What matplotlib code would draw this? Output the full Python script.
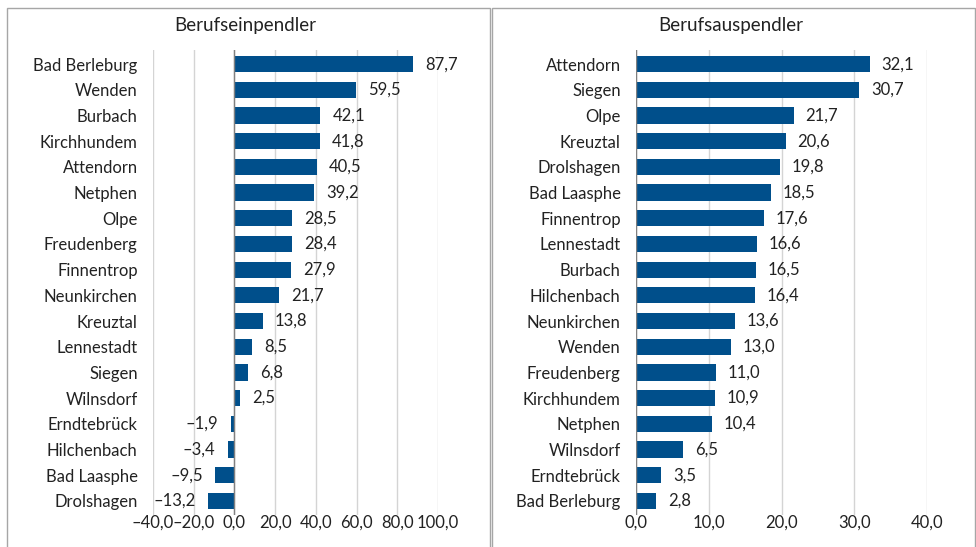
import matplotlib
matplotlib.use("Agg")
import matplotlib.pyplot as plt
from matplotlib.patches import Rectangle

plt.rcParams['font.family'] = ['Lato', 'DejaVu Sans']

ein_names = ["Bad Berleburg", "Wenden", "Burbach", "Kirchhundem", "Attendorn", "Netphen",
             "Olpe", "Freudenberg", "Finnentrop", "Neunkirchen", "Kreuztal", "Lennestadt",
             "Siegen", "Wilnsdorf", "Erndtebrück", "Hilchenbach", "Bad Laasphe", "Drolshagen"]
ein_vals = [87.7, 59.5, 42.1, 41.8, 40.5, 39.2, 28.5, 28.4, 27.9, 21.7, 13.8, 8.5, 6.8, 2.5,
            -1.9, -3.4, -9.5, -13.2]
ein_ticks = [-40, -20, 0, 20, 40, 60, 80, 100]

aus_names = ["Attendorn", "Siegen", "Olpe", "Kreuztal", "Drolshagen", "Bad Laasphe",
             "Finnentrop", "Lennestadt", "Burbach", "Hilchenbach", "Neunkirchen", "Wenden",
             "Freudenberg", "Kirchhundem", "Netphen", "Wilnsdorf", "Erndtebrück", "Bad Berleburg"]
aus_vals = [32.1, 30.7, 21.7, 20.6, 19.8, 18.5, 17.6, 16.6, 16.5, 16.4, 13.6, 13.0, 11.0,
            10.9, 10.4, 6.5, 3.5, 2.8]
aus_ticks = [0, 10, 20, 30, 40]

BAR = "#004f8b"
TXT = "#222222"
FS = 12

def fmt(v):
    s = f"{abs(v):.1f}".replace(".", ",")
    return ("\u2013" + s) if v < 0 else s

fig = plt.figure(figsize=(9.76, 5.47), dpi=100)

# panel frames
for x0, x1 in [(7, 490), (492, 975)]:
    fig.patches.append(Rectangle((x0 / 976, -0.05), (x1 - x0) / 976, 1.05 - 8 / 547,
                                 transform=fig.transFigure, fill=False,
                                 edgecolor="#a6a6a6", linewidth=1.0))

def panel(rect, names, vals, ticks, xlim, off, title, tx):
    ax = fig.add_axes(rect)
    y = list(range(len(names)))
    ax.barh(y, vals, height=0.63, color=BAR, zorder=3)
    ax.set_ylim(len(names) - 0.45, -0.55)
    ax.set_xlim(*xlim)
    ax.set_yticks(y)
    ax.set_yticklabels(names, fontsize=FS, color=TXT)
    ax.set_xticks(ticks)
    ax.set_xticklabels([fmt(t) for t in ticks], fontsize=FS, color=TXT)
    for s in ax.spines.values():
        s.set_visible(False)
    ax.tick_params(length=0)
    ax.tick_params(axis='x', pad=0)
    ax.tick_params(axis='y', pad=11)
    ax.grid(axis='x', color="#d4d4d4", linewidth=1.0, zorder=0)
    ax.axvline(0, color="#808080", linewidth=1.0, zorder=4)
    for yi, v in zip(y, vals):
        if v >= 0:
            ax.text(v + off, yi, fmt(v), va='center', ha='left', fontsize=FS, color=TXT)
        else:
            ax.text(v - off, yi, fmt(v), va='center', ha='right', fontsize=FS, color=TXT)
    fig.text(tx / 976, 1 - 26 / 547, title, ha='center', va='center', fontsize=13.5, color=TXT)
    return ax

panel([153 / 976, 1 - 515 / 547, 285 / 976, 465 / 547], ein_names, ein_vals, ein_ticks,
      (-40, 100), 6, "Berufseinpendler", 245)
panel([636 / 976, 1 - 515 / 547, 291 / 976, 465 / 547], aus_names, aus_vals, aus_ticks,
      (0, 40), 1.6, "Berufsauspendler", 731)

fig.savefig("out.png", dpi=100)
